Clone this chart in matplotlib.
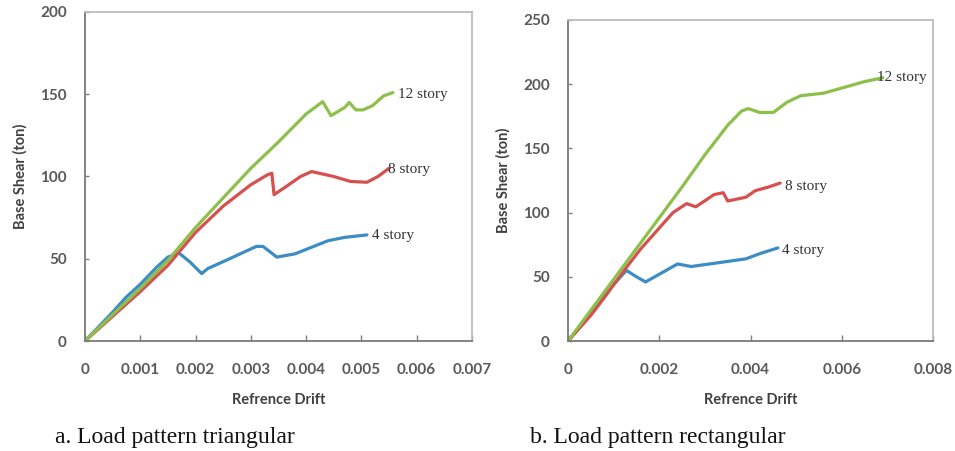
import matplotlib.pyplot as plt

# (a) load pattern triangular
a_x12 = [0, 0.0005, 0.001, 0.0015, 0.002, 0.0025, 0.003, 0.0035, 0.004, 0.0043, 0.00445,
         0.0047, 0.00478, 0.0049, 0.00503, 0.0052, 0.0054, 0.00557]
a_y12 = [0, 16, 32, 49, 69, 87, 105, 121, 138, 145.5, 137, 142, 145, 140.5, 140.5, 143, 149, 151]
a_x8 = [0, 0.0005, 0.001, 0.0015, 0.002, 0.0025, 0.003, 0.0033, 0.00338, 0.00342, 0.0036,
        0.0039, 0.0041, 0.0045, 0.0048, 0.0051, 0.0053, 0.0055]
a_y8 = [0, 15, 30, 46, 66, 82, 95, 101, 102, 89, 93, 100, 103, 100, 97, 96.5, 100, 105]
a_x4 = [0, 0.0005, 0.00074, 0.001, 0.0013, 0.0015, 0.0017, 0.0019, 0.00211, 0.00222,
        0.00268, 0.0031, 0.00322, 0.00347, 0.0038, 0.0044, 0.0047, 0.0051]
a_y4 = [0, 17.5, 26.5, 34.5, 45, 51, 53.5, 48, 41, 44, 51, 57.5, 57.5, 51, 53, 61, 63, 64.5]

# (b) load pattern rectangular
b_x12 = [0, 0.0005, 0.001, 0.0015, 0.002, 0.0025, 0.003, 0.0035, 0.0038, 0.00395, 0.0042,
         0.0045, 0.0048, 0.0051, 0.0056, 0.006, 0.0065, 0.0069]
b_y12 = [0, 24, 48, 72, 96, 120, 145, 168, 179, 181, 178, 178, 186, 191, 193, 197, 202, 205]
b_x8 = [0, 0.0005, 0.0008, 0.00125, 0.0016, 0.002, 0.0023, 0.0026, 0.0028, 0.0032, 0.0034,
        0.0035, 0.0039, 0.0041, 0.0044, 0.00465]
b_y8 = [0, 20, 34, 56, 72, 88, 100, 107, 104.5, 114, 115.5, 109, 112, 117, 120, 123]
b_x4 = [0, 0.0005, 0.001, 0.00128, 0.0015, 0.0017, 0.002, 0.0024, 0.0027, 0.003, 0.0035,
        0.0039, 0.0042, 0.0046]
b_y4 = [0, 21, 44, 55, 50, 46, 52, 60, 58, 59.5, 62, 64, 68, 72.5]

labels = ['4 story', '8 story', '12 story']
colors = ['#3d8cc4', '#d5504f', '#8dbf4b']
captions = ['a. Load pattern triangular', 'b. Load pattern rectangular']

plt.rcParams['font.family'] = ['Lato', 'DejaVu Sans']

fig = plt.figure(figsize=(9.55, 4.51), dpi=100)
ax1 = fig.add_axes([0.0890, 0.2439, 0.4052, 0.7295])
ax2 = fig.add_axes([0.5948, 0.2439, 0.3822, 0.7118])

panels = [
    (ax1, [(a_x4, a_y4), (a_x8, a_y8), (a_x12, a_y12)], 0.007, 0.001, 200, 50,
     [(5, -1), (-1, -1), (5, -2)]),
    (ax2, [(b_x4, b_y4), (b_x8, b_y8), (b_x12, b_y12)], 0.008, 0.002, 250, 50,
     [(4, -3), (5, -3), (-6, 0)]),
]

for ax, series, xmax, xstep, ymax, ystep, offs in panels:
    for (xs, ys), lab, c, off in zip(series, labels, colors, offs):
        ax.plot(xs, ys, color=c, lw=2.3, solid_capstyle='round', solid_joinstyle='round')
        ax.annotate(lab, xy=(xs[-1], ys[-1]), xytext=off, textcoords='offset pixels',
                    ha='left', va='center', fontsize=11, color='#333333',
                    family='Liberation Serif')
    ax.set_xlim(0, xmax)
    ax.set_ylim(0, ymax)
    xt = [round(i * xstep, 4) for i in range(int(round(xmax / xstep)) + 1)]
    ax.set_xticks(xt)
    ax.set_xticklabels(['0'] + ['%.3f' % v for v in xt[1:]])
    ax.set_yticks(range(0, ymax + 1, ystep))
    ax.tick_params(axis='x', direction='in', length=4, width=1, color='#7f7f7f',
                   pad=16, labelsize=11, labelcolor='#595959')
    ax.tick_params(axis='y', direction='in', length=3, width=1, color='#7f7f7f',
                   pad=13, labelsize=11, labelcolor='#595959')
    for lbl in ax.get_xticklabels() + ax.get_yticklabels():
        lbl.set_fontweight('bold')
    for s in ['left', 'bottom']:
        ax.spines[s].set_color('#7a7a7a')
        ax.spines[s].set_linewidth(1.3)
    for s in ['top', 'right']:
        ax.spines[s].set_color('#bdbdbd')
        ax.spines[s].set_linewidth(1.3)
    ax.set_xlabel('Refrence Drift', fontsize=10.5, fontweight='bold', color='#404040', labelpad=11)
    ax.set_ylabel('Base Shear (ton)', fontsize=10.5, fontweight='bold', color='#404040', labelpad=9)

fig.text(55 / 955, 1 - 437 / 451, captions[0], fontsize=17, family='Liberation Serif',
         va='center', ha='left', color='#111111')
fig.text(530 / 955, 1 - 437 / 451, captions[1], fontsize=17, family='Liberation Serif',
         va='center', ha='left', color='#111111')

fig.savefig('out.png', dpi=100)
